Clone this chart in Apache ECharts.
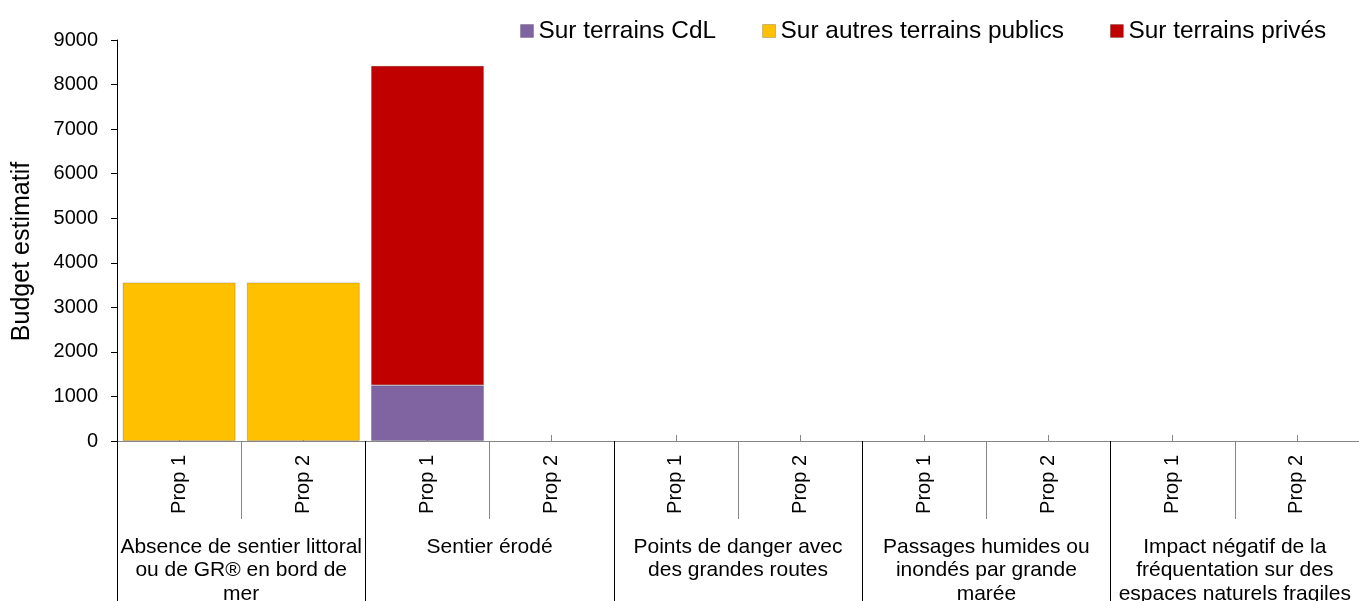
<!DOCTYPE html>
<html>
<head>
<meta charset="utf-8">
<script src="https://cdn.jsdelivr.net/npm/echarts@6/dist/echarts.min.js"></script>
<style>
html,body{margin:0;padding:0;background:#fff;}
#c{width:1359px;height:601px;}
</style>
</head>
<body>
<div id="c"></div>
<script>
var groups = [
  "Absence de sentier littoral\nou de GR® en bord de\nmer",
  "Sentier érodé",
  "Points de danger avec\ndes grandes routes",
  "Passages humides ou\ninondés par grande\nmarée",
  "Impact négatif de la\nfréquentation sur des\nespaces naturels fragiles"
];
var props = ["Prop 1","Prop 2","Prop 1","Prop 2","Prop 1","Prop 2","Prop 1","Prop 2","Prop 1","Prop 2"];
var seriesNames = ["Sur terrains CdL","Sur autres terrains publics","Sur terrains privés"];
var cdl     = [0, 0, 1250, 0, 0, 0, 0, 0, 0, 0];
var publics = [3560, 3560, 0, 0, 0, 0, 0, 0, 0, 0];
var prives  = [0, 0, 7170, 0, 0, 0, 0, 0, 0, 0];
var yTicks = [0,1000,2000,3000,4000,5000,6000,7000,8000,9000];
var yAxisName = "Budget estimatif";

var colors = ["#8064A2","#FFC000","#C00000"];
var font = "Liberation Sans, Arial, sans-serif";
function nz(a){ return a.map(function(v){ return v === 0 ? null : v; }); }
var catIdx = props.map(function(_, i){ return i; });

var chart = echarts.init(document.getElementById('c'));
chart.setOption({
  animation: false,
  textStyle: {fontFamily: font},
  legend: {
    top: 14, left: 515, itemGap: 46, itemWidth: 13, itemHeight: 13, icon: 'rect',
    textStyle: {fontSize: 24.4, color: '#000', fontFamily: font},
    data: seriesNames.map(function(n){ return {name: n, itemStyle: {borderColor: 'rgba(0,0,0,0.2)', borderWidth: 1}}; })
  },
  grid: {left: 117, right: 0, top: 40, bottom: 160, containLabel: false, outerBoundsMode: 'none'},
  xAxis: [
    {
      type: 'category', data: props, position: 'bottom',
      axisLine: {show: true, lineStyle: {color: '#868686', width: 1}},
      axisTick: {show: true, interval: 0, length: 78, lineStyle: {color: '#868686'}},
      axisLabel: {interval: 0, rotate: 90, fontSize: 20, color: '#000', margin: 14, fontFamily: font},
      splitLine: {show: false}
    },
    {
      type: 'category', data: groups, position: 'bottom', gridIndex: 0,
      axisLine: {show: false},
      axisTick: {show: true, interval: 0, length: 165, lineStyle: {color: '#000'}},
      axisLabel: {interval: 0, fontSize: 21, color: '#000', margin: 94, lineHeight: 23.5, align: 'center', fontFamily: font},
      splitLine: {show: false}
    },
    {
      type: 'category', data: catIdx, position: 'bottom', gridIndex: 0,
      axisLine: {show: false},
      axisTick: {show: true, inside: true, alignWithLabel: true, interval: 0, length: 6, lineStyle: {color: '#868686'}},
      axisLabel: {show: false},
      splitLine: {show: false}
    }
  ],
  yAxis: {
    type: 'value', min: yTicks[0], max: yTicks[yTicks.length-1], interval: 1000,
    name: yAxisName, nameLocation: 'middle', nameGap: 82, nameRotate: 90,
    nameTextStyle: {fontSize: 25, color: '#000', fontFamily: font, padding: [0, 22, 0, 0]},
    axisLine: {show: true, lineStyle: {color: '#000'}},
    axisTick: {show: true, length: 6, lineStyle: {color: '#000'}},
    axisLabel: {fontSize: 20, color: '#000', margin: 19, fontFamily: font, formatter: function(v){ return String(v); }},
    splitLine: {show: false}
  },
  series: [
    {name: seriesNames[0], type: 'bar', stack: 's', xAxisIndex: 0, data: nz(cdl), barCategoryGap: '9%',
     itemStyle: {color: colors[0], borderColor: 'rgba(0,0,0,0.18)', borderWidth: 1}},
    {name: seriesNames[1], type: 'bar', stack: 's', xAxisIndex: 0, data: nz(publics), barCategoryGap: '9%',
     itemStyle: {color: colors[1], borderColor: 'rgba(0,0,0,0.18)', borderWidth: 1}},
    {name: seriesNames[2], type: 'bar', stack: 's', xAxisIndex: 0, data: nz(prives), barCategoryGap: '9%',
     itemStyle: {color: colors[2], borderColor: 'rgba(0,0,0,0.18)', borderWidth: 1}}
  ]
});
</script>
</body>
</html>
